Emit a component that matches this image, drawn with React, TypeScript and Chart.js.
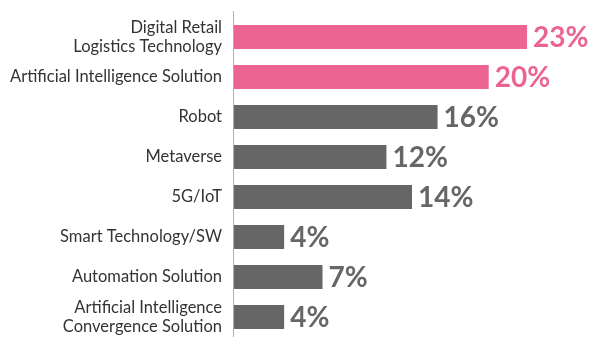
import React, { useEffect, useRef } from "react";
import { Chart, registerables } from "chart.js";

Chart.register(...registerables);

const categories: (string | string[])[] = [
  ["Digital Retail", "Logistics Technology"],
  "Artificial Intelligence Solution",
  "Robot",
  "Metaverse",
  "5G/IoT",
  "Smart Technology/SW",
  "Automation Solution",
  ["Artificial Intelligence", "Convergence Solution"],
];
const values = [23, 20, 16, 12, 14, 4, 7, 4];
const highlighted = [true, true, false, false, false, false, false, false];

const PINK = "#ec6592";
const GRAY = "#666666";
const barColors = highlighted.map((h) => (h ? PINK : GRAY));

const valueLabelPlugin = {
  id: "valueLabels",
  afterDatasetsDraw(chart: any) {
    const { ctx } = chart;
    const meta = chart.getDatasetMeta(0);
    ctx.save();
    ctx.font = "bold 28px Lato";
    ctx.textAlign = "left";
    ctx.textBaseline = "middle";
    meta.data.forEach((bar: any, i: number) => {
      ctx.fillStyle = barColors[i];
      ctx.fillText(values[i] + "%", bar.x + 6, bar.y + 1);
    });
    ctx.restore();
  },
};

const axisLinePlugin = {
  id: "axisLine",
  afterDatasetsDraw(chart: any) {
    const { ctx, chartArea } = chart;
    ctx.save();
    ctx.strokeStyle = "#b0b0b0";
    ctx.lineWidth = 1;
    ctx.beginPath();
    ctx.moveTo(chartArea.left + 0.5, chartArea.top - 6);
    ctx.lineTo(chartArea.left + 0.5, chartArea.bottom);
    ctx.stroke();
    ctx.restore();
  },
};

export default function App() {
  const ref = useRef<HTMLCanvasElement>(null);
  useEffect(() => {
    if (!ref.current) return;
    const chart = new Chart(ref.current, {
      type: "bar",
      data: {
        labels: categories,
        datasets: [
          {
            data: values,
            backgroundColor: barColors,
            borderWidth: 0,
            barPercentage: 0.6,
            categoryPercentage: 1,
          },
        ],
      },
      options: {
        indexAxis: "y",
        animation: false,
        responsive: true,
        maintainAspectRatio: false,
        layout: { padding: { top: 9, bottom: 15, right: 1, left: 0 } },
        plugins: { legend: { display: false }, tooltip: { enabled: false } },
        scales: {
          x: { display: false, min: 0, max: 28 },
          y: {
            grid: { display: false, drawTicks: false },
            border: { display: false },
            ticks: {
              autoSkip: false,
              padding: 11,
              color: "#333333",
              font: { family: "Lato", size: 16.5, lineHeight: 1.15 },
            },
            afterFit(scale: any) {
              scale.width = 225;
              scale.paddingTop = 0;
              scale.paddingBottom = 0;
            },
          },
        },
      },
      plugins: [valueLabelPlugin, axisLinePlugin],
    });
    return () => chart.destroy();
  }, []);
  return (
    <div style={{ width: 584, height: 344, position: "relative" }}>
      <canvas ref={ref} />
    </div>
  );
}
